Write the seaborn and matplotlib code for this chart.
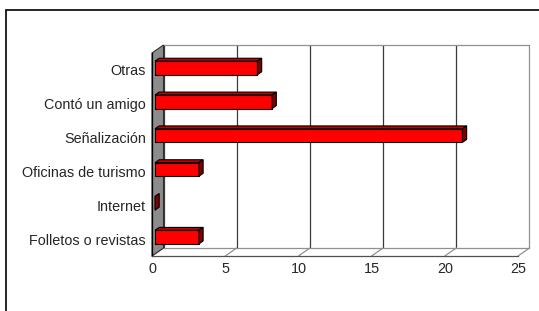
import numpy as np
import matplotlib
matplotlib.use("Agg")
import matplotlib.pyplot as plt
import seaborn as sns
from matplotlib.patches import Polygon, Rectangle
from matplotlib.transforms import ScaledTranslation

# data
categories = ["Otras", "Contó un amigo", "Señalización",
              "Oficinas de turismo", "Internet", "Folletos o revistas"]
counts = [7, 8, 21, 3, 0, 3]
x_ticks = [0, 5, 10, 15, 20, 25]

sns.set_style("white")
plt.rcParams['font.family'] = ['Liberation Sans', 'DejaVu Sans']
FS = 10.4

fig = plt.figure(figsize=(5.39, 3.11), dpi=100)
ax = fig.add_axes([152/539, 55/311, 366/539, 203/311])

sns.barplot(x=counts, y=categories, orient='h', color='#FF0000', width=0.4,
            edgecolor='black', linewidth=0.8, saturation=1, ax=ax, zorder=3)
ax.set_xlim(0, 25)
ax.set_ylim(5.5, -0.5)


def shift(x, y, dx, dy):
    d = ax.transData.transform((x, y))
    return ax.transData.inverted().transform((d[0] + dx, d[1] + dy))


# 3d offsets in pixels
WALL = (11.5, 8)
FRONT = (3, 2)
DEPTH = (4.2, 2.9)
BACK = (FRONT[0] + DEPTH[0], FRONT[1] + DEPTH[1])

grid_c = '#3a3a3a'
wall_c = '#8c8c8c'

# back wall gridlines / frame
for v in x_ticks:
    p1, p2 = shift(v, 5.5, *WALL), shift(v, -0.5, *WALL)
    c = grid_c if v < 25 else '#909090'
    ax.plot([p1[0], p2[0]], [p1[1], p2[1]], color=c, lw=0.9, zorder=0.5, clip_on=False)
    # floor diagonals
    f = shift(v, 5.5, 0, 0)
    ax.plot([f[0], p1[0]], [f[1], p1[1]], color='#909090', lw=0.9, zorder=0.5, clip_on=False)
for yy in [5.5, -0.5]:
    a, b = shift(0, yy, *WALL), shift(25, yy, *WALL)
    ax.plot([a[0], b[0]], [a[1], b[1]], color='#909090', lw=0.9, zorder=0.5, clip_on=False)

# side wall
side = [shift(0, 5.5, 0, 0), shift(0, -0.5, 0, 0),
        shift(0, -0.5, *WALL), shift(0, 5.5, *WALL)]
ax.add_patch(Polygon(side, closed=True, facecolor=wall_c, edgecolor='#303030',
                     lw=0.8, zorder=1, clip_on=False))

# bars: shift front faces and add top / side faces
bars = list(ax.patches)[:]
bars = [p for p in bars if isinstance(p, Rectangle)]
off = ScaledTranslation(FRONT[0]/100, FRONT[1]/100, fig.dpi_scale_trans)
for p in bars:
    x0, w, y0, h = p.get_x(), p.get_width(), p.get_y(), p.get_height()
    x1 = x0 + w
    top = [shift(x0, y0, *FRONT), shift(x1, y0, *FRONT),
           shift(x1, y0, *BACK), shift(x0, y0, *BACK)]
    right = [shift(x1, y0, *FRONT), shift(x1, y0 + h, *FRONT),
             shift(x1, y0 + h, *BACK), shift(x1, y0, *BACK)]
    ax.add_patch(Polygon(top, closed=True, facecolor='#C00000', edgecolor='black',
                         lw=0.8, zorder=3, clip_on=False))
    ax.add_patch(Polygon(right, closed=True, facecolor='#800000', edgecolor='black',
                         lw=0.8, zorder=3, clip_on=False))
    p.set_transform(ax.transData + off)
    p.set_clip_on(False)

# axes styling
for s in ['top', 'right']:
    ax.spines[s].set_visible(False)
ax.spines['left'].set_color('black')
ax.spines['left'].set_linewidth(0.9)
ax.spines['bottom'].set_color('#505050')
ax.spines['bottom'].set_linewidth(0.9)
ax.set_xticks(x_ticks)
ax.set_xticklabels([str(v) for v in x_ticks], fontsize=FS)
ax.set_yticks(range(len(categories)))
ax.set_yticklabels(categories, fontsize=FS)
ax.set_yticks(np.arange(-0.5, 6, 1), minor=True)
ax.tick_params(axis='y', which='major', length=0, pad=4.3)
ax.tick_params(axis='y', which='minor', length=2.9, width=0.8, color='black', direction='out')
ax.tick_params(axis='x', which='major', length=2.5, width=0.8, color='black',
               direction='out', pad=2)
ax.set_xlabel('')
ax.set_ylabel('')
ax.patch.set_alpha(0)

# outer chart border
fig.add_artist(Rectangle((6/539, -0.1), 1.2, (301/311) + 0.1, transform=fig.transFigure,
                         fill=False, edgecolor='black', lw=1.2))

fig.savefig('out.png', dpi=100, facecolor='white')
